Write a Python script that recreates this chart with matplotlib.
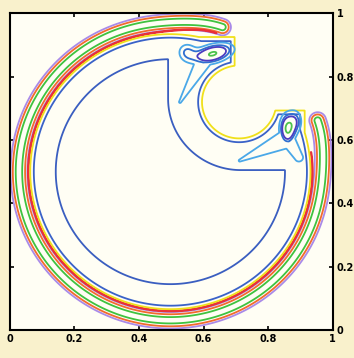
import numpy as np
import matplotlib
matplotlib.use("Agg")
import matplotlib.pyplot as plt

# centre of the big disk
cx, cy = 0.497, 0.5

# thin outer filament (arc): radius, angles (deg), bulge at both ends
fil_radius = 0.469
fil_start, fil_end = 70.5, 379.5
fil_bulge = (0.015, 0.015)
fil_widths = [0.026, 0.019, 0.010]
fil_colors = ["#a98ae8", "#f26a2e", "#3fc23f"]

# red line just inside the filament
red_radius = 0.440
red_start, red_end = 72.0, 368.0
red_bulge = (0.02, 0.0)
red_width = 0.001
red_color = "#e8303a"

# body contours (disk + corner box - notch)
notch_cx = [0.710, 0.710, 0.715]
notch_cy = [0.720, 0.720, 0.730]
notch_r = [0.115, 0.127, 0.0]
notch_corner = [(0.697, 0.694), (0.685, 0.682), (0.715, 0.730)]
notch_dilate = [0.001, 0.001, 0.225]
body_radius = [0.434, 0.423, 0.355]
body_box = [(0.913, 0.925), (0.899, 0.912), None]
body_colors = ["#f0e01a", "#3a62c8", "#3a5ec0"]

# two small vortices near the notch
# gaussians: x, y, sx, sy, angle(deg), weight
gauss = [
    (0.628, 0.872, 0.042, 0.019, 15, 1.0),
    (0.548, 0.878, 0.020, 0.020, 0, 0.45),
    (0.860, 0.635, 0.016, 0.031, 0, 1.0),
    (0.885, 0.660, 0.015, 0.025, 0, 0.45),
]
# tails: x0, y0, x1, y1, width0, width1, weight
tails = [
    (0.600, 0.850, 0.527, 0.720, 0.022, 0.003, 0.45),
    (0.850, 0.600, 0.712, 0.535, 0.026, 0.003, 0.45),
    (0.862, 0.600, 0.895, 0.545, 0.020, 0.012, 0.45),
]
blob_levels = [0.25, 0.45, 0.60, 0.96]
blob_colors = ["#4aa8e8", "#2f6fd0", "#4b3cc0", "#4cc24c"]

n = 700
X, Y = np.meshgrid(np.linspace(0, 1, n), np.linspace(0, 1, n))
R = np.hypot(X - cx, Y - cy)
TH = np.degrees(np.arctan2(Y - cy, X - cx)) % 360


def arc_field(r0, th0, th1, bulge):
    L = th1 - th0
    t = (TH - th0) % 360
    rad = r0 + bulge[0] * np.exp(-(t / 15) ** 2) + bulge[1] * np.exp(-((L - t) / 15) ** 2)
    d_in = np.abs(R - rad)
    ends = []
    for ang, b in ((th0, bulge[0]), (th1, bulge[1])):
        re = r0 + b
        ex = cx + re * np.cos(np.radians(ang))
        ey = cy + re * np.sin(np.radians(ang))
        ends.append(np.hypot(X - ex, Y - ey))
    d_end = np.minimum(ends[0], ends[1])
    return np.where(t <= L, d_in, d_end)


def body_field(rad, box, ncx, ncy, rn, corner, dil):
    g = R - rad
    if box is not None:
        gbox = np.maximum.reduce([X - box[0], Y - box[1], cx - X, cy - Y])
        g = np.minimum(g, gbox)
    quad = np.hypot(np.maximum(corner[0] - X, 0), np.maximum(corner[1] - Y, 0)) - dil
    notch = np.minimum(np.hypot(X - ncx, Y - ncy) - rn, quad)
    return np.maximum(g, -notch)


fig = plt.figure(figsize=(3.54, 3.58), dpi=100, facecolor="#f9f1cc")
ax = fig.add_axes([0.028, 0.078, 0.912, 0.885])
ax.set_facecolor("#fffef4")

lw = 1.3
fil = arc_field(fil_radius, fil_start, fil_end, fil_bulge)
for w, c in zip(fil_widths, fil_colors):
    ax.contour(X, Y, fil, levels=[w], colors=[c], linewidths=lw)

red = arc_field(red_radius, red_start, red_end, red_bulge)
ax.contour(X, Y, red, levels=[red_width], colors=[red_color], linewidths=lw)

for i, c in enumerate(body_colors):
    f = body_field(body_radius[i], body_box[i], notch_cx[i], notch_cy[i],
                   notch_r[i], notch_corner[i], notch_dilate[i])
    ax.contour(X, Y, f, levels=[0], colors=[c], linewidths=lw)

blob = np.zeros_like(X)
for gx, gy, sx, sy, ang, w in gauss:
    a = np.radians(ang)
    u = (X - gx) * np.cos(a) + (Y - gy) * np.sin(a)
    v = -(X - gx) * np.sin(a) + (Y - gy) * np.cos(a)
    blob += w * np.exp(-(u ** 2 / (2 * sx ** 2) + v ** 2 / (2 * sy ** 2)))
for x0, y0, x1, y1, s0, s1, w in tails:
    dx, dy = x1 - x0, y1 - y0
    t = np.clip(((X - x0) * dx + (Y - y0) * dy) / (dx * dx + dy * dy), 0, 1)
    d = np.hypot(X - (x0 + t * dx), Y - (y0 + t * dy))
    s = s0 + (s1 - s0) * t
    blob = np.maximum(blob, w * np.exp(-d ** 2 / (2 * s ** 2)))
for lev, c in zip(blob_levels, blob_colors):
    ax.contour(X, Y, blob, levels=[lev], colors=[c], linewidths=lw)

ax.set_xlim(0, 1)
ax.set_ylim(0, 1)
ticks = [0, 0.2, 0.4, 0.6, 0.8, 1]
labels = ["0", "0.2", "0.4", "0.6", "0.8", "1"]
ax.set_xticks(ticks, labels)
ax.set_yticks(ticks, labels)
ax.tick_params(direction="in", length=3, width=1.2, top=True, right=True,
               labelleft=False, labelright=True, labelsize=7, pad=3)
for lab in ax.get_xticklabels() + ax.get_yticklabels():
    lab.set_fontweight("bold")
for sp in ax.spines.values():
    sp.set_linewidth(1.5)

fig.savefig("out.png", dpi=100, facecolor=fig.get_facecolor())
